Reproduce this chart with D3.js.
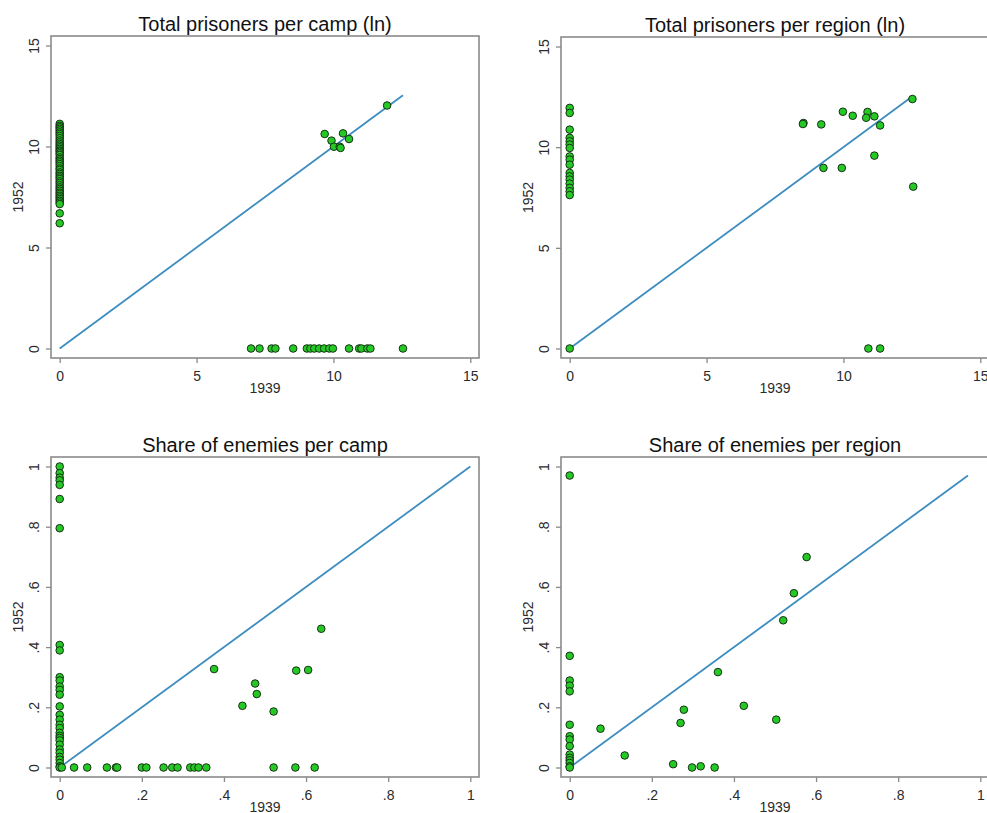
<!DOCTYPE html>
<html>
<head>
<meta charset="utf-8">
<script src="https://cdn.jsdelivr.net/npm/d3@7/dist/d3.min.js"></script>
<style>
  html, body { margin: 0; padding: 0; background: #fff; }
  svg { display: block; font-family: "Liberation Sans", Arial, Helvetica, sans-serif; }
</style>
</head>
<body>
<svg id="chart" width="987" height="813"></svg>
<script>
// Prisoners per camp, ln scale: [1939, 1952]
const campLn = [
  [0,11.12],[0,11.02],[0,10.95],[0,10.87],[0,10.79],[0,10.70],[0,10.62],[0,10.52],
  [0,10.41],[0,10.30],[0,10.21],[0,10.12],[0,10.04],[0,9.96],[0,9.88],[0,9.80],
  [0,9.74],[0,9.66],[0,9.58],[0,9.46],[0,9.38],[0,9.30],[0,9.22],[0,9.13],
  [0,9.03],[0,8.92],[0,8.84],[0,8.72],[0,8.64],[0,8.55],[0,8.47],[0,8.39],
  [0,8.28],[0,8.19],[0,8.08],[0,7.98],[0,7.90],[0,7.81],[0,7.72],[0,7.65],
  [0,7.56],[0,7.48],[0,7.40],[0,7.31],[0,7.23],[0,7.15],[0,6.69],[0,6.20],
  [9.68,10.62],[9.93,10.29],[10.02,9.99],[10.23,9.99],[10.26,9.93],[10.35,10.65],
  [10.57,10.37],[11.96,12.03],
  [6.99,0],[7.30,0],[7.74,0],[7.88,0],[8.53,0],[9.03,0],[9.16,0],[9.30,0],
  [9.48,0],[9.66,0],[9.85,0],[9.98,0],[10.57,0],[10.94,0],[11.02,0],[11.24,0],
  [11.35,0],[12.54,0]
];

// Prisoners per region, ln scale: [1939, 1952]
const regionLn = [
  [0,0],
  [0,11.95],[0,11.70],[0,10.87],[0,10.46],[0,10.29],[0,10.13],[0,9.96],[0,9.54],
  [0,9.38],[0,9.13],[0,8.72],[0,8.55],[0,8.39],[0,8.19],[0,7.98],[0,7.81],[0,7.62],
  [8.54,11.20],[8.52,11.15],[9.19,11.13],[9.98,11.76],[10.34,11.56],[10.88,11.75],
  [10.83,11.46],[11.13,11.53],[11.34,11.08],[11.13,9.58],[9.27,8.97],[9.94,8.97],
  [12.52,12.39],[12.55,8.04],
  [10.91,0],[11.34,0]
];

// Share of enemies per camp: [1939, 1952]
const campShare = [
  [0,1.00],[0,0.978],[0,0.963],[0,0.954],[0,0.939],[0,0.892],[0,0.795],
  [0,0.407],[0,0.389],[0,0.300],[0,0.289],[0,0.269],[0,0.258],[0,0.242],
  [0,0.203],[0,0.175],[0,0.159],[0,0.142],[0,0.131],[0,0.115],[0,0.105],[0,0.098],
  [0,0.090],[0,0.076],[0,0.060],[0,0.049],[0,0.035],[0,0.026],[0,0.015],[0,0.004],[0,0],
  [0.376,0.327],[0.445,0.205],[0.476,0.279],[0.480,0.244],[0.521,0.186],
  [0.576,0.322],[0.605,0.324],[0.637,0.461],
  [0.005,0],[0.035,0],[0.067,0],[0.115,0],[0.137,0],[0.140,0],[0.200,0],[0.211,0],
  [0.253,0],[0.274,0],[0.287,0],[0.318,0],[0.328,0],[0.338,0],[0.357,0],
  [0.521,0],[0.574,0],[0.621,0]
];

// Share of enemies per region: [1939, 1952]
const regionShare = [
  [0,0.970],[0,0.371],[0,0.289],[0,0.272],[0,0.253],[0,0.142],[0,0.104],[0,0.093],
  [0,0.071],[0,0.043],[0,0.032],[0,0.024],[0,0.015],[0,0.004],[0,0],
  [0.075,0.129],[0.134,0.040],[0.252,0.011],[0.270,0.148],[0.278,0.192],
  [0.298,0],[0.319,0.004],[0.353,0],[0.361,0.317],[0.424,0.205],[0.503,0.159],
  [0.520,0.489],[0.546,0.579],[0.577,0.699]
];

const titles = [
  "Total prisoners per camp (ln)",
  "Total prisoners per region (ln)",
  "Share of enemies per camp",
  "Share of enemies per region"
];
const lnTicks = [0, 5, 10, 15];
const shareTicks = [0, 0.2, 0.4, 0.6, 0.8, 1];
const xTitle = "1939";
const yTitle = "1952";

const fmtLn = d => String(d);
const fmtShare = d => d === 0 ? "0" : d === 1 ? "1" : String(d).replace(/^0/, "");

// Panel layout: plot-region frame in pixels
const panels = [
  { data: campLn,      title: titles[0], ticks: lnTicks,    fmt: fmtLn,    dom: 15, frame: { l: 51,  t: 36,  r: 479, b: 358 } },
  { data: regionLn,    title: titles[1], ticks: lnTicks,    fmt: fmtLn,    dom: 15, frame: { l: 561, t: 37,  r: 989, b: 358 } },
  { data: campShare,   title: titles[2], ticks: shareTicks, fmt: fmtShare, dom: 1,  frame: { l: 51,  t: 457, r: 479, b: 777 } },
  { data: regionShare, title: titles[3], ticks: shareTicks, fmt: fmtShare, dom: 1,  frame: { l: 561, t: 457, r: 989, b: 777 } }
];

const svg = d3.select("#chart");
svg.append("rect").attr("width", 987).attr("height", 813).attr("fill", "#fff");

const padX = 8.7, padY = 9.5;
const frameColor = "#8a8a8a";
const textColor = "#2b2b2b";

panels.forEach(p => {
  const f = p.frame;
  const x = d3.scaleLinear().domain([0, p.dom]).range([f.l + padX, f.r - padX]);
  const y = d3.scaleLinear().domain([0, p.dom]).range([f.b - padY, f.t + padY]);
  const g = svg.append("g");

  // plot region frame
  g.append("rect")
    .attr("x", f.l).attr("y", f.t)
    .attr("width", f.r - f.l).attr("height", f.b - f.t)
    .attr("fill", "#fff").attr("stroke", frameColor).attr("stroke-width", 1.6);

  // x axis
  const xa = g.append("g").attr("transform", `translate(0,${f.b})`)
    .call(d3.axisBottom(x).tickValues(p.ticks).tickFormat(p.fmt).tickSize(5).tickPadding(8));
  xa.select(".domain").remove();
  xa.selectAll("line").attr("stroke", frameColor).attr("stroke-width", 1.3);
  xa.selectAll("text").attr("fill", textColor).style("font-size", "14px")
    .style("font-family", "'Liberation Sans', Arial, sans-serif");

  // y axis, labels turned vertical
  const ya = g.append("g").attr("transform", `translate(${f.l},0)`)
    .call(d3.axisLeft(y).tickValues(p.ticks).tickFormat(p.fmt).tickSize(5));
  ya.select(".domain").remove();
  ya.selectAll("line").attr("stroke", frameColor).attr("stroke-width", 1.3);
  ya.selectAll("text")
    .attr("x", 0).attr("y", -12).attr("dy", null)
    .attr("text-anchor", "middle")
    .attr("transform", "rotate(-90)")
    .attr("fill", textColor).style("font-size", "14px")
    .style("font-family", "'Liberation Sans', Arial, sans-serif");

  // axis titles
  g.append("text")
    .attr("x", (f.l + f.r) / 2).attr("y", f.b + 35)
    .attr("text-anchor", "middle").attr("fill", textColor)
    .style("font-size", "14px").text(xTitle);
  g.append("text")
    .attr("transform", `translate(${f.l - 28},${(f.t + f.b) / 2}) rotate(-90)`)
    .attr("text-anchor", "middle").attr("fill", textColor)
    .style("font-size", "14px").text(yTitle);

  // panel title
  g.append("text")
    .attr("x", (f.l + f.r) / 2).attr("y", f.t - 5)
    .attr("text-anchor", "middle").attr("fill", "#111")
    .style("font-size", "20px").text(p.title);

  // 45-degree reference line up to the largest value
  const maxVal = d3.max(p.data, d => Math.max(d[0], d[1]));
  g.append("line")
    .attr("x1", x(0)).attr("y1", y(0))
    .attr("x2", x(maxVal)).attr("y2", y(maxVal))
    .attr("stroke", "#3d8dc0").attr("stroke-width", 1.8);

  // points
  g.append("g").selectAll("circle").data(p.data).join("circle")
    .attr("cx", d => x(d[0])).attr("cy", d => y(d[1]))
    .attr("r", 3.8)
    .attr("fill", "#25c825")
    .attr("stroke", "#143214").attr("stroke-width", 1);
});
</script>
</body>
</html>
